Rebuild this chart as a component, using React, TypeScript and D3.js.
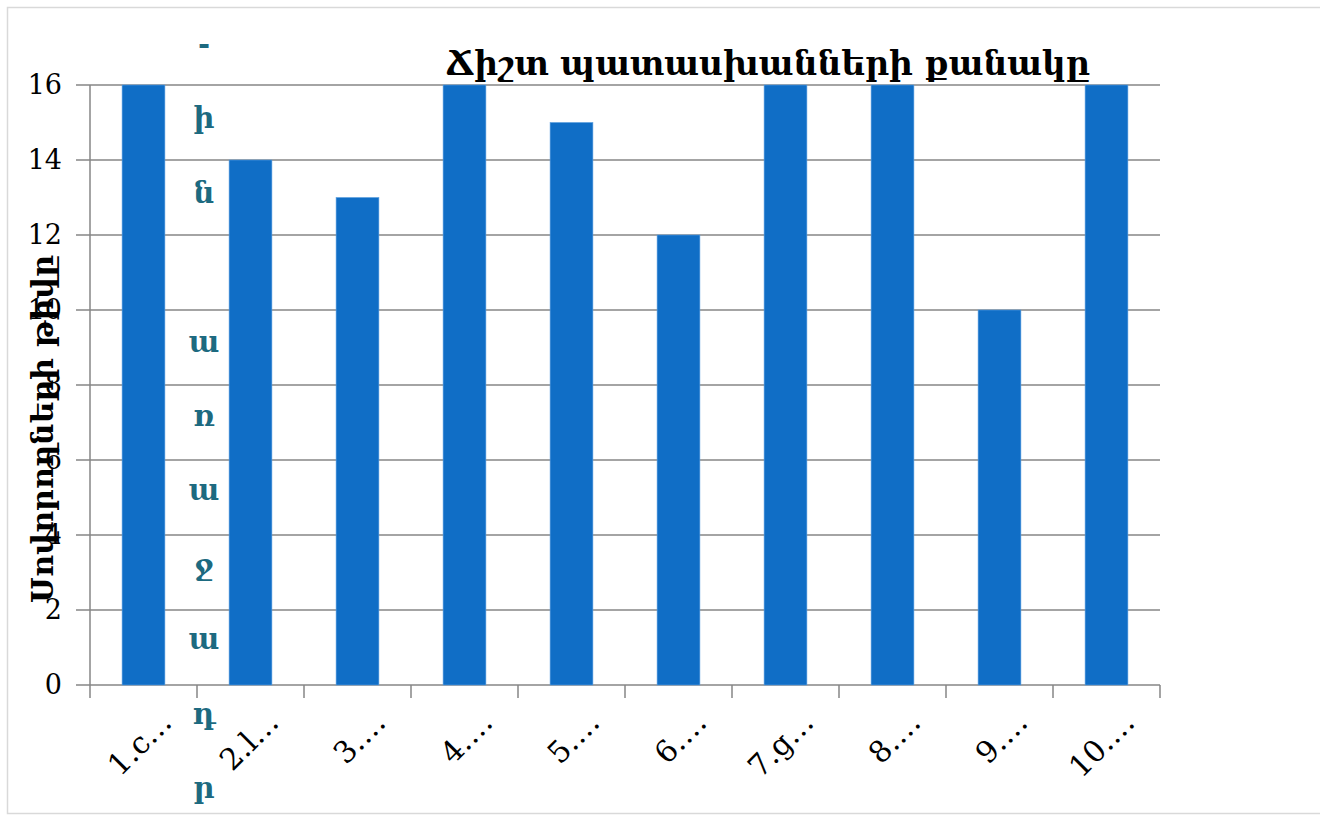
import * as d3 from 'd3'

const categories = ['1.c…', '2.l…', '3.…', '4.…', '5.…', '6.…', '7.g…', '8.…', '9.…', '10.…']
const correctCounts = [16, 14, 13, 16, 15, 12, 16, 16, 10, 16]
const yTicks = [0, 2, 4, 6, 8, 10, 12, 14, 16]
const sideLetters = ['-', 'ի', 'ն', ' ', 'ա', 'ռ', 'ա', 'ջ', 'ա', 'դ', 'ր']
const title = 'Ճիշտ պատասխանների քանակը'
const yLabel = 'Սովորողների թիվը'

const W = 1320
const H = 819
const plot = { left: 90, right: 1160, top: 85, bottom: 685 }
const FONT = '"DejaVu Serif", "Liberation Serif", serif'

export default function App() {
  const x = d3.scaleBand<string>()
    .domain(categories)
    .range([plot.left, plot.right])
    .paddingInner(0.6)
    .paddingOuter(0.3)
  const y = d3.scaleLinear().domain([0, 16]).range([plot.bottom, plot.top])
  const step = x.step()
  const bounds = d3.range(categories.length + 1).map((i) => plot.left + i * step)

  return (
    <svg width={W} height={H} style={{ position: 'absolute', left: 0, top: 0, background: '#fff' }}>
      <rect x={7.5} y={7.5} width={1330} height={806} fill="#fff" stroke="#d9d9d9" strokeWidth={1.5} />

      {/* gridlines */}
      {yTicks.map((t) => (
        <line key={t} x1={76} x2={plot.right} y1={y(t)} y2={y(t)} stroke="#868686" strokeWidth={1.5} />
      ))}

      {/* bars */}
      {categories.map((c, i) => (
        <rect
          key={c}
          x={x(c)}
          y={y(correctCounts[i])}
          width={x.bandwidth()}
          height={plot.bottom - y(correctCounts[i])}
          fill="#106ec6"
          stroke="#5b9fe0"
          strokeWidth={0.6}
        />
      ))}

      {/* axes */}
      <line x1={plot.left} x2={plot.left} y1={plot.top} y2={plot.bottom + 13} stroke="#868686" strokeWidth={1.5} />
      {bounds.slice(1).map((b, i) => (
        <line key={i} x1={b} x2={b} y1={plot.bottom} y2={plot.bottom + 13} stroke="#868686" strokeWidth={1.5} />
      ))}

      {yTicks.map((t) => (
        <text key={t} x={62} y={y(t)} dy="0.35em" textAnchor="end" fontFamily={FONT} fontSize={27} fill="#000">
          {t}
        </text>
      ))}

      {categories.map((c) => {
        const cx = (x(c) ?? 0) + x.bandwidth() / 2 + 30
        const cy = 724
        return (
          <text key={c} transform={`translate(${cx},${cy}) rotate(-45)`} textAnchor="end" fontFamily={FONT} fontSize={30} fill="#000">
            {c}
          </text>
        )
      })}

      {/* stray vertical axis title letters */}
      {sideLetters.map((l, i) => (
        <text key={i} x={204} y={54 + i * 74.4} textAnchor="middle" fontFamily={FONT} fontWeight={600} fontSize={29} fill="#1d6a80">
          {l}
        </text>
      ))}

      <text
        transform={`translate(53,429) rotate(-90)`}
        textAnchor="middle"
        fontFamily={FONT}
        fontWeight="bold"
        fontSize={30}
        fill="#000"
      >
        {yLabel}
      </text>

      <text x={768} y={75} textAnchor="middle" fontFamily={FONT} fontWeight="bold" fontSize={33} fill="#000">
        {title}
      </text>
    </svg>
  )
}
